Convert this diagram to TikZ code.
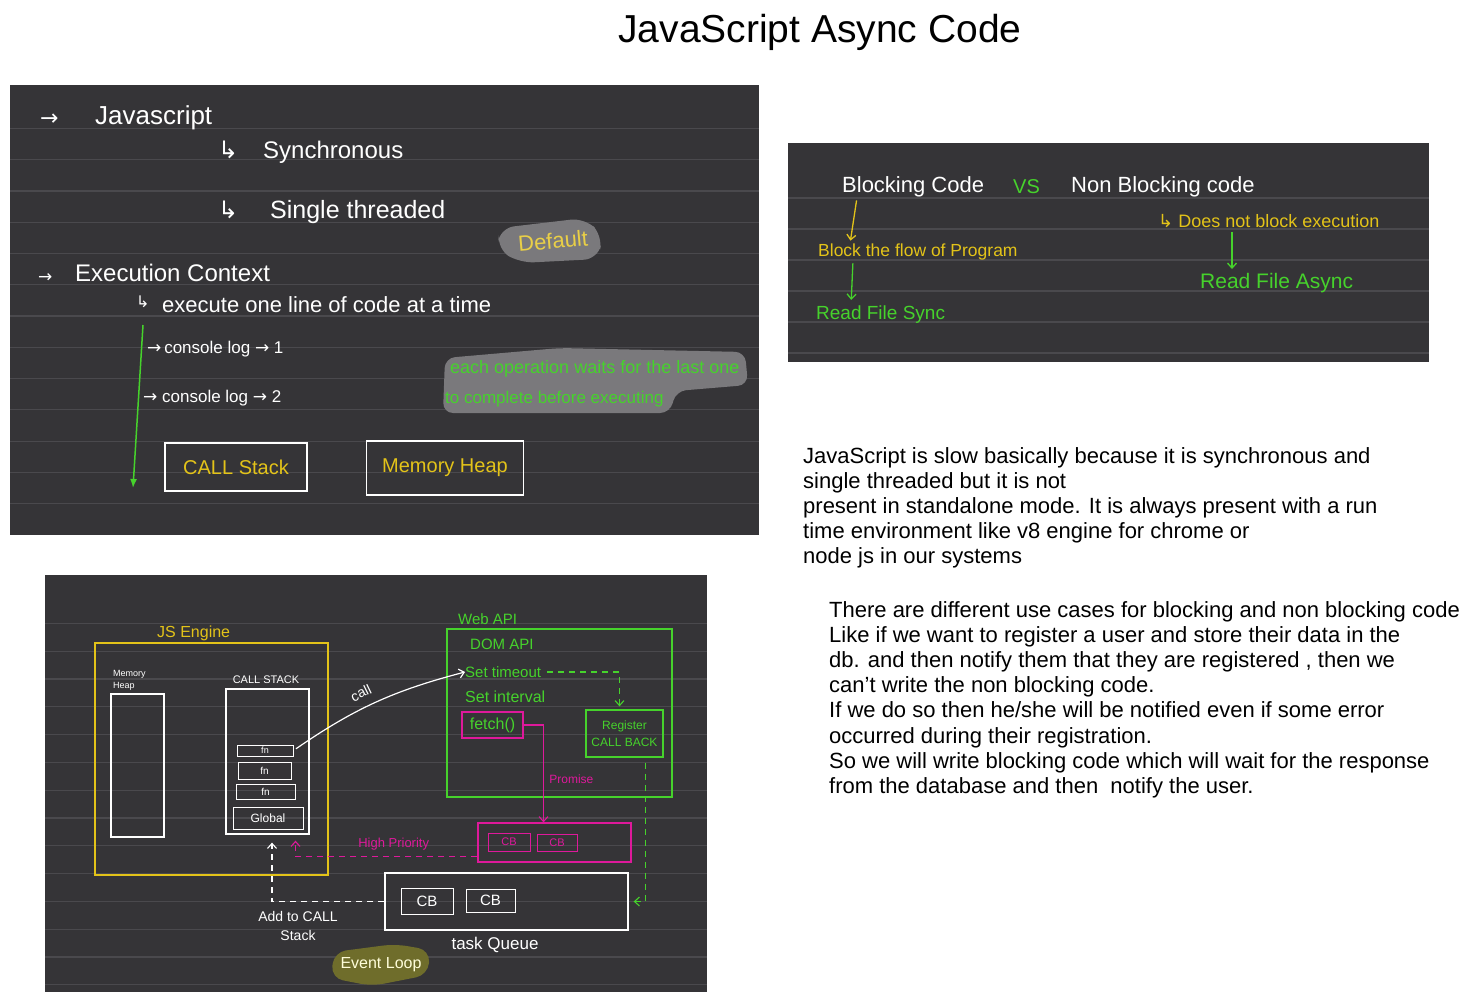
\documentclass[tikz,border=0pt]{standalone}
\usepackage{fontspec}
\setmainfont{Liberation Sans}
\newfontfamily\arrowfont{DejaVu Sans}
\usepackage{tikz}
\usetikzlibrary{arrows.meta,positioning}
\definecolor{boardbg}{HTML}{353437}
\definecolor{boardrule}{HTML}{4A494D}
\definecolor{chalkyellow}{HTML}{E3C319}
\definecolor{chalkgreen}{HTML}{46D22C}
\definecolor{chalkpink}{HTML}{DE199B}
\definecolor{smudgegray}{HTML}{7A797C}
\definecolor{smudgeolive}{HTML}{6F6D2B}
\newcommand{\fsz}[1]{\fontsize{#1}{#1}\selectfont}
\newcommand{\ra}{{\arrowfont →}}
\newcommand{\hk}{{\arrowfont ↳}}
\tikzset{board/.style={fill=boardbg},ruling/.style={draw=boardrule,line width=1.2pt},chalk/.style={anchor=west,inner sep=0pt,text=white},wbox/.style={draw=white,line width=1.3pt,inner sep=0pt},ybox/.style={wbox,draw=chalkyellow},gbox/.style={wbox,draw=chalkgreen},pbox/.style={wbox,draw=chalkpink},barb/.style={line width=1.3pt,-{Straight Barb[length=5pt,width=9pt]}},chalkdash/.style={dash pattern=on 6pt off 5pt}}

\begin{document}
\begin{tikzpicture}[x=1pt,y=-1pt]
 \useasboundingbox (0,0) rectangle (1481,1001);
 \node[font=\fsz{39}] (title) at (820,32) {JavaScript Async Code};
 % board one
 \fill[board] (10,85) rectangle (759,535);
 \foreach \yy in {128.3,159.6,190.9,222.1,253.4,284.7,316,347.2,378.5,409.8,441.1,472.3,503.6}
   \draw[ruling] (10,\yy) -- (759,\yy);
 \node[chalk,font=\fsz{22}] (arrjs) at (40,120) {\ra};
 \node[chalk,font=\fsz{26}] (jsword) at (95,118) {Javascript};
 \node[chalk,font=\fsz{24}] (hooksync) at (218,150) {\hk};
 \node[chalk,font=\fsz{24}] (sync) at (263,152) {Synchronous};
 \node[chalk,font=\fsz{24}] (hookthread) at (218,210) {\hk};
 \node[chalk,font=\fsz{25}] (thread) at (270,212) {Single threaded};
 \fill[smudgegray,rounded corners=14pt] (500,228) -- (585,218) -- (603,236) -- (598,259) -- (520,263) -- (497,249) -- cycle;
 \node[font=\fsz{22},text=chalkyellow!80!white,rotate=5] (dflt) at (553,241) {Default};
 \node[chalk,font=\fsz{17}] (arrexec) at (38,278) {\ra};
 \node[chalk,font=\fsz{24}] (exec) at (75,273) {Execution Context};
 \node[chalk,font=\fsz{16}] (hookline) at (136,302) {\hk};
 \node[chalk,font=\fsz{22}] (oneline) at (162,305) {execute one line of code at a time};
 \coordinate (flowtop) at (143,325);
 \coordinate (flowend) at (133,488);
 \draw[chalkgreen,line width=1.5pt,-{Latex[length=9pt,width=7pt]}] (flowtop) -- (flowend);
 \node[chalk,font=\fsz{17}] (logone) at (147,349) {\ra\,console log \ra\ 1};
 \node[chalk,font=\fsz{17}] (logtwo) at (143,398) {\ra\ console log \ra\ 2};
 \fill[smudgegray,rounded corners=10pt] (445,358) -- (560,348) -- (745,352) -- (748,385) -- (676,391) -- (670,413) -- (443,413) -- cycle;
 \node[chalk,text=chalkgreen,font=\fsz{18}] (waitone) at (450,369) {each operation waits for the last one};
 \node[chalk,text=chalkgreen,font=\fsz{17}] (waittwo) at (445,399) {to complete before executing};
 \node[wbox,minimum width=142pt,minimum height=48pt,text=chalkyellow,font=\fsz{20}] (callstack) at (236,467) {CALL Stack};
 \node[wbox,minimum width=157pt,minimum height=54pt,text=chalkyellow,font=\fsz{20}] (memheap) at (445,468) {Memory Heap};
 % board two
 \fill[board] (788,143) rectangle (1429,362);
 \foreach \yy in {198,229,260,291,322,353}
   \draw[ruling] (788,\yy) -- (1429,\yy);
 \node[chalk,font=\fsz{22}] (blocking) at (842,187) {Blocking Code};
 \node[chalk,font=\fsz{20},text=chalkgreen] (versus) at (1013,187) {VS};
 \node[chalk,font=\fsz{22}] (nonblocking) at (1071,187) {Non Blocking code};
 \node[chalk,font=\fsz{17.5},text=chalkyellow] (blockflow) at (818,252) {Block the flow of Program};
 \node[chalk,font=\fsz{19},text=chalkgreen] (readsync) at (816,315) {Read File Sync};
 \node[chalk,font=\fsz{18},text=chalkyellow] (noblock) at (1158,221) {\hk\ Does not block execution};
 \node[chalk,font=\fsz{21},text=chalkgreen] (readasync) at (1200,283) {Read File Async};
 \draw[barb,chalkyellow,shorten <=3pt,shorten >=3pt] ([xshift=15pt]blocking.south west) -- ([xshift=32pt]blockflow.north west);
 \draw[barb,chalkgreen,shorten <=3pt,shorten >=6pt] ([xshift=35pt]blockflow.south west) -- ([xshift=35pt]readsync.north west);
 \draw[barb,chalkgreen,shorten <=4pt,shorten >=4pt] ([xshift=74pt]noblock.south west) -- ([xshift=32pt]readasync.north west);
 % notes
 \node[anchor=north west,align=left,inner sep=0pt,font=\fontsize{22}{25.2}\selectfont] (slownote) at (803,447) {JavaScript is slow basically because it is synchronous and\\single threaded but it is not\\present in standalone mode. It is always present with a run\\time environment like v8 engine for chrome or\\node js in our systems};
 \node[anchor=north west,align=left,inner sep=0pt,font=\fontsize{22}{25.2}\selectfont] (usenote) at (829,601) {There are different use cases for blocking and non blocking code\\Like if we want to register a user and store their data in the\\db. and then notify them that they are registered , then we\\can't write the non blocking code.\\If we do so then he/she will be notified even if some error\\occurred during their registration.\\So we will write blocking code which will wait for the response\\from the database and then \ notify the user.};
 % board three
 \fill[board] (45,575) rectangle (707,992);
 \foreach \yy in {623.3,651.1,678.9,706.7,734.5,762.3,790.1,817.9,845.7,873.5,901.3,929.1,956.9,984.7}
   \draw[ruling] (45,\yy) -- (707,\yy);
 \node[ybox,minimum width=233pt,minimum height=232pt] (jsengine) at (211.5,759) {};
 \node[chalk,text=chalkyellow,font=\fsz{16}] (jsenginelbl) at (157,633) {JS Engine};
 \node[wbox,minimum width=53pt,minimum height=143pt] (heapcol) at (137.5,765.5) {};
 \node[chalk,align=left,font=\fontsize{9}{12}\selectfont] (heaplbl) at (113,680) {Memory\\Heap};
 \node[wbox,minimum width=83pt,minimum height=145pt] (stackcol) at (267.5,761.5) {};
 \node[font=\fsz{11},text=white] (stacklbl) at (266,680) {CALL STACK};
 \node[wbox,line width=1pt,minimum width=56pt,minimum height=11pt,text=white,font=\fsz{9}] (fnone) at (265,750.5) {fn};
 \node[wbox,line width=1pt,minimum width=53pt,minimum height=17pt,text=white,font=\fsz{10}] (fntwo) at (264.5,770.5) {fn};
 \node[wbox,line width=1pt,minimum width=59pt,minimum height=15pt,text=white,font=\fsz{10}] (fnthree) at (265.5,791.5) {fn};
 \node[wbox,line width=1pt,minimum width=70pt,minimum height=22pt,text=white,font=\fsz{12}] (globalctx) at (268,818) {Global};
 \node[gbox,minimum width=225pt,minimum height=168pt] (webapi) at (559.5,713) {};
 \node[chalk,text=chalkgreen,font=\fsz{15}] (webapilbl) at (458,619) {Web API};
 \node[chalk,text=chalkgreen,font=\fsz{15}] (domapi) at (470,644) {DOM API};
 \node[chalk,text=chalkgreen,font=\fsz{15}] (settimeout) at (465,672) {Set timeout};
 \node[chalk,text=chalkgreen,font=\fsz{16}] (setinterval) at (465,697) {Set interval};
 \node[pbox,minimum width=61pt,minimum height=26pt,text=chalkgreen,font=\fsz{16}] (fetchcall) at (492.5,725) {fetch()};
 \node[gbox,minimum width=77pt,minimum height=47pt,text=chalkgreen,align=center,font=\fontsize{12}{17}\selectfont] (register) at (624.5,733.5) {Register\\CALL BACK};
 \node[pbox,minimum width=153pt,minimum height=39pt] (microq) at (554.5,842.5) {};
 \node[pbox,line width=1pt,minimum width=42pt,minimum height=18pt,text=chalkpink,font=\fsz{11}] (microcbone) at (509,842) {CB};
 \node[pbox,line width=1pt,minimum width=40pt,minimum height=17pt,text=chalkpink,font=\fsz{11}] (microcbtwo) at (557,842.5) {CB};
 \node[wbox,minimum width=243pt,minimum height=57pt] (taskq) at (506.5,901.5) {};
 \node[wbox,line width=1pt,minimum width=52pt,minimum height=26pt,text=white,font=\fsz{15}] (taskcbone) at (427,901) {CB};
 \node[wbox,line width=1pt,minimum width=49pt,minimum height=23pt,text=white,font=\fsz{15}] (taskcbtwo) at (490.5,900.5) {CB};
 \node[text=white,font=\fsz{17}] (taskqlbl) at (495,945) {task Queue};
 \fill[smudgeolive,rounded corners=12pt] (334,952) -- (395,944) -- (430,950) -- (428,975) -- (372,986) -- (331,978) -- cycle;
 \node[text=white!85!yellow,font=\fsz{16}] (eventloop) at (381,965) {Event Loop};
 \node[text=white,align=center,font=\fontsize{14}{19}\selectfont] (addstack) at (298,926) {Add to CALL\\Stack};
 \draw[barb,white,line width=1.2pt,shorten <=3pt] (fnone.east) to[bend left=10] node[pos=.45,above=8pt,sloped,inner sep=1pt,font=\fsz{14},text=white] {call} (settimeout.west);
 \draw[barb,chalkgreen,line width=1.1pt,chalkdash,shorten <=6pt,shorten >=3pt] (settimeout.east) -| ([xshift=-5pt]register.north);
 \draw[barb,chalkpink,line width=1.1pt] (fetchcall.east) -| node[pos=.78,right=2pt,font=\fsz{12},text=chalkpink] {Promise} ([xshift=-11pt]microq.north);
 \draw[barb,chalkpink,line width=1.1pt,chalkdash,shorten >=6pt] ([yshift=-14pt]microq.west) -| node[pos=.23,above=2pt,font=\fsz{13},text=chalkpink] {High Priority} ([xshift=28pt]stackcol.south);
 \draw[barb,chalkgreen,line width=1.1pt,chalkdash,shorten <=5pt,shorten >=5pt] ([xshift=21pt]register.south) |- (taskq.east);
 \draw[barb,white,line width=1.1pt,chalkdash,shorten >=8pt] (taskq.west) -| ([xshift=4.5pt]stackcol.south);
\end{tikzpicture}
\end{document}
